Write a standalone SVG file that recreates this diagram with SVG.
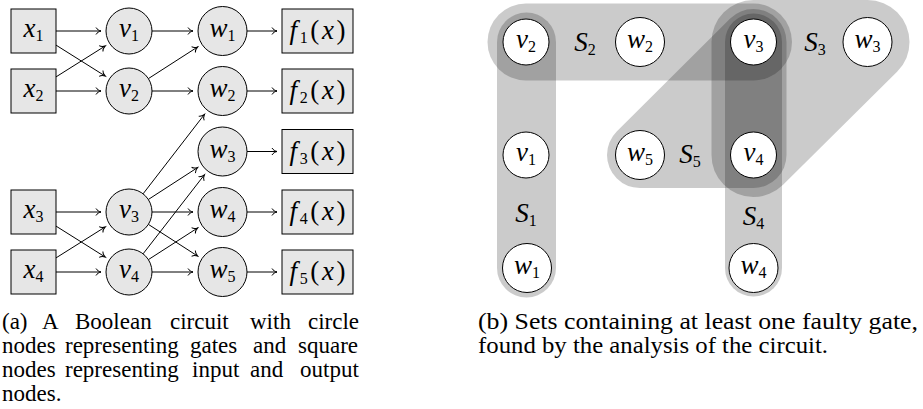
<svg xmlns="http://www.w3.org/2000/svg" width="923" height="409" viewBox="0 0 923 409">
<defs>
<style>
.box{fill:#e6e6e6;stroke:#000;stroke-width:1}
.wn{fill:#fff;stroke:#000;stroke-width:1}
.e{fill:none;stroke:#000;stroke-width:1;marker-end:url(#ah)}
.m{font-family:"Liberation Serif","Times New Roman",serif;font-size:27px;font-style:italic;text-anchor:middle;fill:#000}
.s{font-size:16px;font-style:normal}
.u{font-style:normal}
.cap{font-family:"Liberation Serif","Times New Roman",serif;font-size:23px;fill:#000}
.set{opacity:0.2;stroke:#000;fill:#000;stroke-linecap:round;stroke-linejoin:round}
</style>
<marker id="ah" markerWidth="10" markerHeight="10" viewBox="-8 -5 10 10" refX="0" refY="0" orient="auto" markerUnits="userSpaceOnUse">
<path d="M-5,-3.5 C-4,-1.5 -1.5,-0.4 0,0 C-1.5,0.4 -4,1.5 -5,3.5" fill="none" stroke="#000" stroke-width="1"/>
</marker>
</defs>

<g id="edges">
<path class="e" d="M56,31 H101"/>
<path class="e" d="M56,45.1 L105.3,76.1"/>
<path class="e" d="M56,76.9 L105.3,45.9"/>
<path class="e" d="M56,91 H101"/>
<path class="e" d="M152,31 H193"/>
<path class="e" d="M148.4,78.6 L197.7,46.9"/>
<path class="e" d="M152,91 H193"/>
<path class="e" d="M143.1,193.8 L204.5,114.3"/>
<path class="e" d="M148.3,199.5 L197.7,167.5"/>
<path class="e" d="M152,212 H193"/>
<path class="e" d="M148.4,224.4 L197.7,256.1"/>
<path class="e" d="M143.1,253.8 L204.4,174.8"/>
<path class="e" d="M148.4,259.6 L197.7,227.9"/>
<path class="e" d="M152,272 H193"/>
<path class="e" d="M56,212 H101"/>
<path class="e" d="M56,226.1 L105.3,257.1"/>
<path class="e" d="M56,257.9 L105.3,226.9"/>
<path class="e" d="M56,272 H101"/>
<path class="e" d="M247,31 H277"/>
<path class="e" d="M247,91 H277"/>
<path class="e" d="M247,151.5 H277"/>
<path class="e" d="M247,212 H277"/>
<path class="e" d="M247,272 H277"/>
</g>

<g id="x1"><rect class="box" x="11" y="9" width="45" height="44"/><text class="m" x="33.5" y="37">x<tspan class="s" dy="4">1</tspan></text></g>
<g id="x2"><rect class="box" x="11" y="69" width="45" height="44"/><text class="m" x="33.5" y="97">x<tspan class="s" dy="4">2</tspan></text></g>
<g id="x3"><rect class="box" x="11" y="190" width="45" height="44"/><text class="m" x="33.5" y="218">x<tspan class="s" dy="4">3</tspan></text></g>
<g id="x4"><rect class="box" x="11" y="250" width="45" height="44"/><text class="m" x="33.5" y="278">x<tspan class="s" dy="4">4</tspan></text></g>

<g id="v1"><circle class="box" cx="129" cy="31" r="23"/><text class="m" x="129" y="37">v<tspan class="s" dy="4">1</tspan></text></g>
<g id="v2"><circle class="box" cx="129" cy="91" r="23"/><text class="m" x="129" y="97">v<tspan class="s" dy="4">2</tspan></text></g>
<g id="v3"><circle class="box" cx="129" cy="212" r="23"/><text class="m" x="129" y="218">v<tspan class="s" dy="4">3</tspan></text></g>
<g id="v4"><circle class="box" cx="129" cy="272" r="23"/><text class="m" x="129" y="278">v<tspan class="s" dy="4">4</tspan></text></g>

<g id="w1"><circle class="box" cx="222.5" cy="31" r="24.5"/><text class="m" x="222.5" y="37">w<tspan class="s" dy="4">1</tspan></text></g>
<g id="w2"><circle class="box" cx="222.5" cy="91" r="24.5"/><text class="m" x="222.5" y="97">w<tspan class="s" dy="4">2</tspan></text></g>
<g id="w3"><circle class="box" cx="222.5" cy="151.5" r="24.5"/><text class="m" x="222.5" y="157.5">w<tspan class="s" dy="4">3</tspan></text></g>
<g id="w4"><circle class="box" cx="222.5" cy="212" r="24.5"/><text class="m" x="222.5" y="218">w<tspan class="s" dy="4">4</tspan></text></g>
<g id="w5"><circle class="box" cx="222.5" cy="272" r="24.5"/><text class="m" x="222.5" y="278">w<tspan class="s" dy="4">5</tspan></text></g>

<g id="f1"><rect class="box" x="282" y="9" width="71" height="44"/><text class="m" x="317.5" y="39" textLength="56" lengthAdjust="spacing">f<tspan class="s" dy="4">1</tspan><tspan class="u" dy="-4">(</tspan>x<tspan class="u">)</tspan></text></g>
<g id="f2"><rect class="box" x="282" y="69" width="71" height="44"/><text class="m" x="317.5" y="99" textLength="56" lengthAdjust="spacing">f<tspan class="s" dy="4">2</tspan><tspan class="u" dy="-4">(</tspan>x<tspan class="u">)</tspan></text></g>
<g id="f3"><rect class="box" x="282" y="129.5" width="71" height="44"/><text class="m" x="317.5" y="159.5" textLength="56" lengthAdjust="spacing">f<tspan class="s" dy="4">3</tspan><tspan class="u" dy="-4">(</tspan>x<tspan class="u">)</tspan></text></g>
<g id="f4"><rect class="box" x="282" y="190" width="71" height="44"/><text class="m" x="317.5" y="220" textLength="56" lengthAdjust="spacing">f<tspan class="s" dy="4">4</tspan><tspan class="u" dy="-4">(</tspan>x<tspan class="u">)</tspan></text></g>
<g id="f5"><rect class="box" x="282" y="250" width="71" height="44"/><text class="m" x="317.5" y="280" textLength="56" lengthAdjust="spacing">f<tspan class="s" dy="4">5</tspan><tspan class="u" dy="-4">(</tspan>x<tspan class="u">)</tspan></text></g>

<g id="sets">
<path id="S2set" class="set" d="M526,42 H753.5" stroke-width="77"/>
<polygon id="S3set" class="set" points="753.5,42 867.5,42 753.5,155" stroke-width="84"/>
<polygon id="S5set" class="set" points="640,155 753.5,155 753.5,42" stroke-width="66"/>
<path id="S4set" class="set" d="M753.5,42 V268" stroke-width="57"/>
<path id="S1set" class="set" d="M526.5,42 V268" stroke-width="59"/>
</g>

<g id="rv2"><circle class="wn" cx="526" cy="42" r="23"/><text class="m" x="526" y="48">v<tspan class="s" dy="4">2</tspan></text></g>
<g id="rw2"><circle class="wn" cx="640" cy="42" r="24.5"/><text class="m" x="640" y="48">w<tspan class="s" dy="4">2</tspan></text></g>
<g id="rv3"><circle class="wn" cx="753.5" cy="42" r="23"/><text class="m" x="753.5" y="48">v<tspan class="s" dy="4">3</tspan></text></g>
<g id="rw3"><circle class="wn" cx="867.5" cy="42" r="24.5"/><text class="m" x="867.5" y="48">w<tspan class="s" dy="4">3</tspan></text></g>
<g id="rv1"><circle class="wn" cx="526" cy="155" r="23"/><text class="m" x="526" y="161">v<tspan class="s" dy="4">1</tspan></text></g>
<g id="rw5"><circle class="wn" cx="640" cy="155" r="24.5"/><text class="m" x="640" y="161">w<tspan class="s" dy="4">5</tspan></text></g>
<g id="rv4"><circle class="wn" cx="753.5" cy="155" r="23"/><text class="m" x="753.5" y="161">v<tspan class="s" dy="4">4</tspan></text></g>
<g id="rw1"><circle class="wn" cx="527" cy="268" r="24.5"/><text class="m" x="527" y="274">w<tspan class="s" dy="4">1</tspan></text></g>
<g id="rw4"><circle class="wn" cx="753.5" cy="268" r="24.5"/><text class="m" x="753.5" y="274">w<tspan class="s" dy="4">4</tspan></text></g>

<g id="setlabels">
<text class="m" x="585" y="51">S<tspan class="s" dy="4">2</tspan></text>
<text class="m" x="815" y="51">S<tspan class="s" dy="4">3</tspan></text>
<text class="m" x="690" y="163">S<tspan class="s" dy="4">5</tspan></text>
<text class="m" x="526" y="222">S<tspan class="s" dy="4">1</tspan></text>
<text class="m" x="753.5" y="225">S<tspan class="s" dy="4">4</tspan></text>
</g>

<g id="captionA" class="cap">
<text y="329"><tspan x="2">(a)</tspan><tspan x="42">A</tspan><tspan x="75">Boolean</tspan><tspan x="170">circuit</tspan><tspan x="250">with</tspan><tspan x="308">circle</tspan></text>
<text y="353"><tspan x="2">nodes</tspan><tspan x="65">representing</tspan><tspan x="190">gates</tspan><tspan x="253">and</tspan><tspan x="298">square</tspan></text>
<text y="377"><tspan x="2">nodes</tspan><tspan x="65">representing</tspan><tspan x="192">input</tspan><tspan x="250">and</tspan><tspan x="300">output</tspan></text>
<text y="401" x="2">nodes.</text>
</g>
<g id="captionB" class="cap">
<text x="478" y="329" textLength="440" lengthAdjust="spacingAndGlyphs">(b) Sets containing at least one faulty gate,</text>
<text x="478" y="353" textLength="350" lengthAdjust="spacingAndGlyphs">found by the analysis of the circuit.</text>
</g>
</svg>
